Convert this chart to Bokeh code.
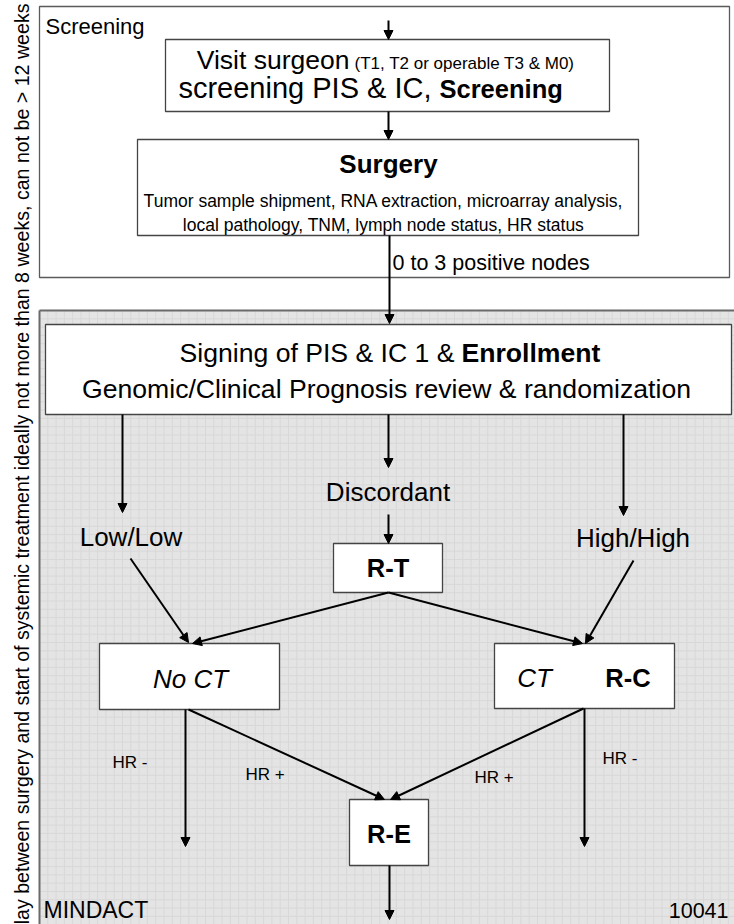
import math
from bokeh.plotting import figure
from bokeh.models import Range1d, Arrow, NormalHead, ColumnDataSource
from bokeh.core.properties import value
from bokeh.embed import file_html
from bokeh.resources import INLINE

# ---------------- content (texts of the flow chart) ----------------
side_note = ("Delay between surgery and start of systemic treatment ideally "
             "not more than 8 weeks, can not be > 12 weeks")
phase_labels = ["Screening", "MINDACT", "10041"]
visit_lines = ["Visit surgeon", "(T1, T2 or operable T3 & M0)",
               "screening PIS & IC,", "Screening"]
surgery_lines = ["Surgery",
                 "Tumor sample shipment, RNA extraction, microarray analysis,",
                 "local pathology, TNM, lymph node status, HR status"]
node_condition = ["0 to 3 positive nodes"]
enroll_lines = ["Signing of PIS & IC 1 &", "Enrollment",
                "Genomic/Clinical Prognosis review & randomization"]
risk_groups = ["Low/Low", "Discordant", "High/High"]
rand_boxes = ["R-T", "R-C", "R-E"]
arms = ["No CT", "CT"]
hr_labels = ["HR -", "HR +", "HR +", "HR -"]

# ---------------- layout (reference pixel space) ----------------
W, H = 734, 924
FONT = value("Liberation Sans")
BASE_SHIFT = 0.37  # rendered baseline sits this many em below the anchor


def fs(px):
    return f"{px:.1f}px"


boxes = {
    "visit": (165, 39, 609, 111),
    "surgery": (137, 139, 638, 235),
    "enroll": (45, 324, 731, 414),
    "rt": (333, 543, 442, 592),
    "noct": (99, 643, 279, 709),
    "ct": (494, 643, 674, 708),
    "re": (349, 799, 428, 865),
}
screen_box = (39, 6, 729, 277)
gray_region = (39, 310, 740, 930)

edges = [
    (388, 20, 388, 39), (388, 111, 388, 139), (389, 235, 389, 323),
    (122, 414, 122, 512), (388, 414, 388, 467), (388, 514, 388, 543),
    (623, 414, 623, 515),
    (130, 558, 188, 642), (388, 592, 192, 643), (388, 592, 582, 643),
    (633, 560, 585, 643),
    (185, 709, 185, 846), (188, 709, 384, 799), (583, 708, 390, 799),
    (584, 708, 584, 846), (389, 865, 389, 919),
]

p = figure(width=W, height=H, output_backend="svg", toolbar_location=None,
           x_range=Range1d(0, W), y_range=Range1d(H, 0), min_border=0,
           outline_line_color=None, background_fill_color="white",
           border_fill_color="white")
p.axis.visible = False
p.grid.visible = False

# screening frame
l, t, r, b = screen_box
p.quad(left=[l], right=[r], top=[t], bottom=[b], fill_color="white",
       line_color="#5a5a5a", line_width=1.3)

# gray enrollment region with fine grid
l, t, r, b = gray_region
p.quad(left=[l], right=[r], top=[t], bottom=[b], fill_color="#e4e4e4",
       line_color=None)
step = 8.3
xs = [l + i * step for i in range(1, int((r - l) / step) + 1)]
ys = [t + i * step for i in range(1, int((b - t) / step) + 1)]
p.segment(x0=xs, y0=[t] * len(xs), x1=xs, y1=[b] * len(xs),
          line_color="#d8d8d8", line_width=1)
p.segment(x0=[l] * len(ys), y0=ys, x1=[r] * len(ys), y1=ys,
          line_color="#d8d8d8", line_width=1)
p.segment(x0=[l, l], y0=[t, t], x1=[r, l], y1=[t, b], line_color="#6a6a6a",
          line_width=2)

# boxes
names = list(boxes)
p.quad(left=[boxes[n][0] for n in names], top=[boxes[n][1] for n in names],
       right=[boxes[n][2] for n in names], bottom=[boxes[n][3] for n in names],
       fill_color="white", line_color="#444444", line_width=1.3)

# arrows
src = ColumnDataSource(dict(x0=[e[0] for e in edges], y0=[e[1] for e in edges],
                            x1=[e[2] for e in edges], y1=[e[3] for e in edges]))
p.add_layout(Arrow(source=src, x_start="x0", y_start="y0", x_end="x1",
                   y_end="y1", line_color="black", line_width=2,
                   end=NormalHead(size=9, fill_color="black",
                                  line_color="black", line_width=1)))


def txt(x, y, s, size, align="left", style="normal", angle=0.0):
    if angle:
        x = x - BASE_SHIFT * size
    else:
        y = y - BASE_SHIFT * size
    p.text(x=[x], y=[y], text=[s], text_font=FONT, text_font_size=fs(size),
           text_font_style=style, text_align=align,
           text_baseline="alphabetic", text_color="black", angle=angle)


# side note (rotated, clipped by the frame)
txt(29, 3, side_note, 19.6, align="right", angle=math.pi / 2)

txt(45, 34, phase_labels[0], 22)
txt(43, 918, phase_labels[1], 23)
txt(728, 918, phase_labels[2], 21.5, align="right")

txt(349, 69, visit_lines[0], 26.5, align="right")
txt(354, 69, visit_lines[1], 17)
txt(431, 98, visit_lines[2], 29, align="right")
txt(439, 98, visit_lines[3], 25.5, style="bold")

txt(388, 173, surgery_lines[0], 26, align="center", style="bold")
txt(383, 207, surgery_lines[1], 17.5, align="center")
txt(383, 231, surgery_lines[2], 17.5, align="center")

txt(392, 270, node_condition[0], 21.5)

txt(454, 362, enroll_lines[0], 26.6, align="right")
txt(461, 362, enroll_lines[1], 26.6, style="bold")
txt(386, 398, enroll_lines[2], 26.6, align="center")

txt(130.5, 546, risk_groups[0], 26, align="center")
txt(387.5, 501, risk_groups[1], 26, align="center")
txt(632.5, 547, risk_groups[2], 26, align="center")

txt(387.5, 577, rand_boxes[0], 25.5, align="center", style="bold")
txt(627.5, 687, rand_boxes[1], 25.5, align="center", style="bold")
txt(388.5, 843, rand_boxes[2], 25.5, align="center", style="bold")

txt(190, 688, arms[0], 26, align="center", style="italic")
txt(534, 687, arms[1], 26, align="center", style="italic")

txt(112, 768, hr_labels[0], 17)
txt(245, 780, hr_labels[1], 17)
txt(474, 783, hr_labels[2], 17)
txt(602, 764, hr_labels[3], 17)

open("out.html", "w").write(file_html(p, INLINE))
